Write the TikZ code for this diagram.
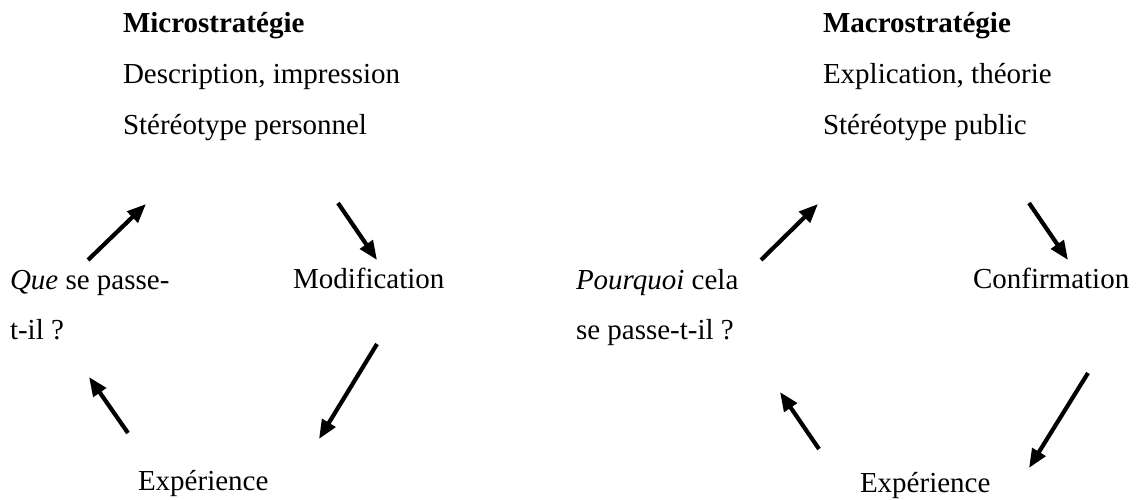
\documentclass[tikz,border=0pt]{standalone}
\usepackage{fontspec}
\setmainfont{Liberation Serif}
\usetikzlibrary{arrows.meta}
\tikzset{
  lbl/.style={anchor=base west, inner sep=0pt, outer sep=0pt, font=\fontsize{29}{34}\selectfont},
  cyc/.style={line width=4.2pt, -{Triangle[length=19pt,width=15pt]}, shorten >=0pt}
}
\begin{document}
\begin{tikzpicture}[x=1pt,y=-1pt]
\useasboundingbox (0,0) rectangle (1136,500);
% ---- left cycle ----
\node[lbl] (mit) at (123,33) {\textbf{Microstratégie}};
\node[lbl] (mid) at (123,84) {Description, impression};
\node[lbl] (mis) at (123,135) {Stéréotype personnel};
\node[lbl] (que1) at (10,289) {\textit{Que} se passe-};
\node[lbl] (que2) at (10,339) {t-il ?};
\node[lbl] (mod) at (293,288) {Modification};
\node[lbl] (exl) at (138,490) {Expérience};
\coordinate (la1) at (88,260);  \coordinate (la2) at (146,204);
\coordinate (lb1) at (338,203); \coordinate (lb2) at (377,260);
\coordinate (lc1) at (377,344); \coordinate (lc2) at (319,439);
\coordinate (ld1) at (128,433); \coordinate (ld2) at (89,377);
\draw[cyc] (la1) -- (la2);
\draw[cyc] (lb1) -- (lb2);
\draw[cyc] (lc1) -- (lc2);
\draw[cyc] (ld1) -- (ld2);
% ---- right cycle ----
\node[lbl] (mat) at (823,33) {\textbf{Macrostratégie}};
\node[lbl] (mae) at (823,84) {Explication, théorie};
\node[lbl] (mas) at (823,135) {Stéréotype public};
\node[lbl] (pq1) at (576,289) {\textit{Pourquoi} cela};
\node[lbl] (pq2) at (576,339) {se passe-t-il ?};
\node[lbl] (conf) at (973,288) {Confirmation};
\node[lbl] (exr) at (860,492) {Expérience};
\coordinate (ra1) at (761,260);  \coordinate (ra2) at (818,204);
\coordinate (rb1) at (1029,203); \coordinate (rb2) at (1068,260);
\coordinate (rc1) at (1088,373); \coordinate (rc2) at (1029,468);
\coordinate (rd1) at (819,449);  \coordinate (rd2) at (780,392);
\draw[cyc] (ra1) -- (ra2);
\draw[cyc] (rb1) -- (rb2);
\draw[cyc] (rc1) -- (rc2);
\draw[cyc] (rd1) -- (rd2);
\end{tikzpicture}
\end{document}
